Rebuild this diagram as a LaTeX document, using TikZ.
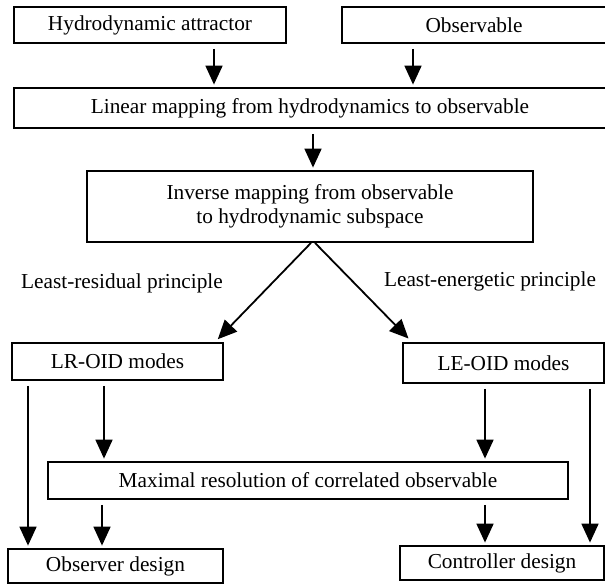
\documentclass[tikz,border=0pt]{standalone}
\usepackage{fontspec}
\setmainfont{Liberation Serif}
\usetikzlibrary{arrows.meta}
\begin{document}
\begin{tikzpicture}[x=1pt,y=-1pt,
  box/.style={draw,line width=1.8pt,rectangle,inner sep=0pt,align=center,
    font=\fontsize{21.3}{24}\selectfont},
  lab/.style={inner sep=0pt,font=\fontsize{21.3}{24}\selectfont},
  arr/.style={line width=1.8pt,-{Triangle[length=19pt,width=17pt]},shorten <=5pt,shorten >=2.5pt}]
\useasboundingbox (0,0) rectangle (605,585);
\node[box,minimum width=272pt,minimum height=36pt] (hyd) at (150,25) {Hydrodynamic attractor};
\node[box,minimum width=264pt,minimum height=36pt] (obs) at (474,25) {Observable};
\node[box,minimum width=592pt,minimum height=40pt] (lin) at (310,108) {Linear mapping from hydrodynamics to observable};
\node[box,minimum width=446pt,minimum height=71pt] (inv) at (310,206.5) {Inverse mapping from observable\\to hydrodynamic subspace};
\node[lab] (lrl) at (122,283) {Least-residual principle};
\node[lab] (lel) at (490,281) {Least-energetic principle};
\node[box,minimum width=211pt,minimum height=37pt] (lr) at (117.5,361.5) {LR-OID modes};
\node[box,minimum width=201pt,minimum height=40pt] (le) at (503.5,363) {LE-OID modes};
\node[box,minimum width=520pt,minimum height=37pt] (max) at (308,480.5) {Maximal resolution of correlated observable};
\node[box,minimum width=215pt,minimum height=34pt] (obd) at (115.5,566) {Observer design};
\node[box,minimum width=204pt,minimum height=34pt] (cod) at (502,563) {Controller design};
\draw[arr] (hyd.south -| 214,0) -- (lin.north -| 214,0);
\draw[arr] (obs.south -| 413,0) -- (lin.north -| 413,0);
\draw[arr] (lin.south -| 313,0) -- (inv.north -| 313,0);
\draw[arr,shorten <=0pt,shorten >=4pt] (inv.south -| 311,0) -- (lr.north -| 215,0);
\draw[arr,shorten <=0pt,shorten >=5pt] (inv.south -| 315,0) -- (le.north -| 412,0);
\draw[arr] (lr.south -| 28,0) -- (obd.north -| 28,0);
\draw[arr] (lr.south -| 104,0) -- (max.north -| 104,0);
\draw[arr] (max.south -| 102,0) -- (obd.north -| 102,0);
\draw[arr] (le.south -| 485,0) -- (max.north -| 485,0);
\draw[arr] (max.south -| 485,0) -- (cod.north -| 485,0);
\draw[arr] (le.south -| 590,0) -- (cod.north -| 590,0);
\end{tikzpicture}
\end{document}
